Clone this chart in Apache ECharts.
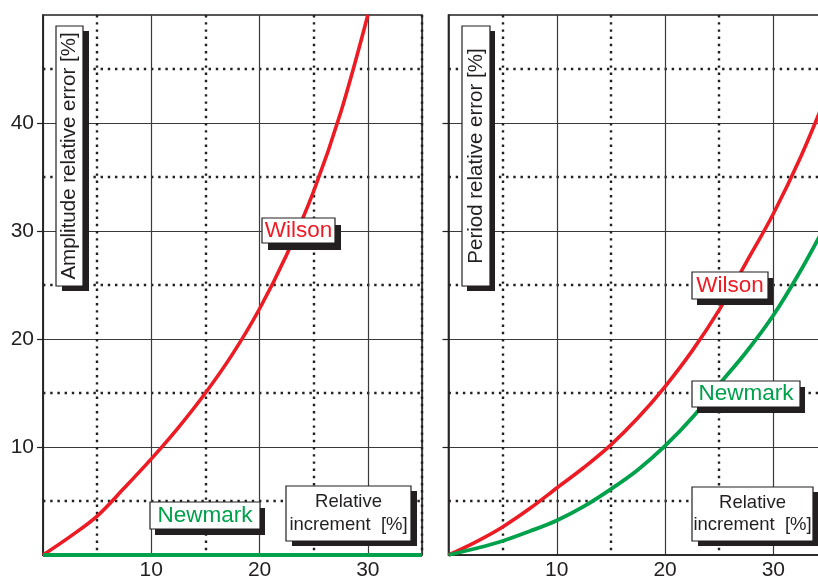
<!DOCTYPE html>
<html>
<head>
<meta charset="utf-8">
<script src="https://cdn.jsdelivr.net/npm/echarts@6/dist/echarts.min.js"></script>
<style>
  html, body { margin: 0; padding: 0; background: #ffffff; overflow: hidden; width: 818px; height: 581px; }
  #chart { width: 840px; height: 581px; }
</style>
</head>
<body>
<div id="chart"></div>
<script>
// Relative increment [%] sample positions
var xs = [0, 2.5, 5, 7.5, 10, 12.5, 15, 17.5, 20, 22.5, 25, 27.5, 30, 32.5, 35];

// Amplitude relative error [%]
var ampWilson   = [0, 1.7, 3.6, 6.2, 8.9, 11.8, 15.0, 18.6, 22.8, 27.8, 33.7, 41.0, 50.0];
var ampNewmark  = [0, 0, 0, 0, 0, 0, 0, 0, 0, 0, 0, 0, 0, 0, 0];

// Period relative error [%]
var perWilson   = [0, 1.2, 2.6, 4.3, 6.2, 8.1, 10.2, 12.7, 15.6, 18.9, 22.7, 27.1, 31.6, 36.8, 42.8];
var perNewmark  = [0, 0.6, 1.3, 2.2, 3.2, 4.5, 6.1, 7.9, 10.1, 12.7, 15.8, 18.8, 22.2, 26.3, 30.9];

// Tick labels
var xTickValues = [10, 20, 30];
var yTickValues = [10, 20, 30, 40];

function pairs(values) {
  return values.map(function (v, i) { return [xs[i], v]; });
}

var FONT = '"Liberation Sans", Arial, Helvetica, sans-serif';
var INK = '#231f20';
var RED = '#ed1c24';
var GREEN = '#00a14b';

var dotted = {
  type: [2.4, 4.8],
  width: 2.4,
  color: ['rgba(0,0,0,0)', INK]
};

function mainX(gridIndex, showLabels) {
  return {
    type: 'value', gridIndex: gridIndex, min: 0, max: 35, interval: 10,
    axisLine: { show: true, lineStyle: { color: INK, width: 1.5 } },
    axisTick: { show: false },
    axisLabel: {
      show: showLabels, customValues: xTickValues, margin: 5,
      color: INK, fontSize: 21, fontFamily: FONT
    },
    splitLine: { show: true, lineStyle: { color: '#3a3a3a', width: 1.2 } }
  };
}
function dotX(gridIndex) {
  return {
    type: 'value', gridIndex: gridIndex, min: 0, max: 35, interval: 5,
    axisLine: { show: false }, axisTick: { show: false }, axisLabel: { show: false },
    splitLine: { show: true, lineStyle: dotted }
  };
}
function mainY(gridIndex, showLabels) {
  return {
    type: 'value', gridIndex: gridIndex, min: 0, max: 50, interval: 10,
    axisLine: { show: true, lineStyle: { color: INK, width: 1.5 } },
    axisTick: { show: true, customValues: yTickValues, length: 6, lineStyle: { color: INK, width: 1.2 } },
    axisLabel: {
      show: showLabels, customValues: yTickValues, margin: 9,
      color: INK, fontSize: 21, fontFamily: FONT
    },
    splitLine: { show: true, lineStyle: { color: '#3a3a3a', width: 1.2 } }
  };
}
function dotY(gridIndex) {
  return {
    type: 'value', gridIndex: gridIndex, min: 0, max: 50, interval: 5,
    axisLine: { show: false }, axisTick: { show: false }, axisLabel: { show: false },
    splitLine: { show: true, lineStyle: dotted }
  };
}

// Boxed caption with a solid drop shadow
function box(x, y, w, h, lines, color, size, vertical, sdx, sdy) {
  var cx = x + w / 2, cy = y + h / 2;
  return [
    { type: 'rect', z: 100, shape: { x: x + sdx, y: y + sdy, width: w, height: h }, style: { fill: INK } },
    { type: 'rect', z: 101, shape: { x: x, y: y, width: w, height: h }, style: { fill: '#ffffff', stroke: INK, lineWidth: 1.2 } },
    {
      type: 'text', z: 102, x: cx, y: cy, rotation: vertical ? Math.PI / 2 : 0,
      style: {
        text: lines, fill: color, font: size + 'px ' + FONT,
        textAlign: 'center', textVerticalAlign: 'middle', lineHeight: size * 1.22
      }
    }
  ];
}

var chart = echarts.init(document.getElementById('chart'), null, { renderer: 'canvas' });

chart.setOption({
  animation: false,
  backgroundColor: '#ffffff',
  grid: [
    { left: 43, top: 15, width: 379, height: 541.6, show: true, borderColor: INK, borderWidth: 1.5, backgroundColor: 'rgba(0,0,0,0)' },
    { left: 448.5, top: 15, width: 379, height: 541.6, show: true, borderColor: INK, borderWidth: 1.5, backgroundColor: 'rgba(0,0,0,0)' }
  ],
  xAxis: [mainX(0, true), dotX(0), mainX(1, true), dotX(1)],
  yAxis: [mainY(0, true), dotY(0), mainY(1, false), dotY(1)],
  series: [
    {
      name: 'Wilson', type: 'line', xAxisIndex: 0, yAxisIndex: 0,
      data: pairs(ampWilson), smooth: 0.35, showSymbol: false, z: 5,
      lineStyle: { color: RED, width: 3.6 }
    },
    {
      name: 'Newmark', type: 'line', xAxisIndex: 0, yAxisIndex: 0,
      data: pairs(ampNewmark), showSymbol: false, z: 6,
      lineStyle: { color: GREEN, width: 4 }
    },
    {
      name: 'Wilson', type: 'line', xAxisIndex: 2, yAxisIndex: 2,
      data: pairs(perWilson), smooth: 0.35, showSymbol: false, z: 5,
      lineStyle: { color: RED, width: 3.6 }
    },
    {
      name: 'Newmark', type: 'line', xAxisIndex: 2, yAxisIndex: 2,
      data: pairs(perNewmark), smooth: 0.35, showSymbol: false, z: 5,
      lineStyle: { color: GREEN, width: 3.8 }
    }
  ],
  graphic: [].concat(
    box(56, 26, 27, 260, 'Amplitude relative error [%]', INK, 20.5, true, 6, 5),
    box(262, 218, 73, 25, 'Wilson', RED, 22.5, false, 6, 7),
    box(150, 502, 110, 27, 'Newmark', GREEN, 22.5, false, 5, 6),
    box(286, 486, 125, 55, 'Relative\nincrement  [%]', INK, 18.5, false, 6, 5),
    box(462, 26, 28, 260, 'Period relative error [%]', INK, 20.5, true, 5, 5),
    box(692, 272, 76, 27, 'Wilson', RED, 22.5, false, 5, 6),
    box(692, 381, 108, 26, 'Newmark', GREEN, 22.5, false, 5, 6),
    box(692, 487, 121, 54, 'Relative\nincrement  [%]', INK, 18.5, false, 6, 5)
  )
});
</script>
</body>
</html>
